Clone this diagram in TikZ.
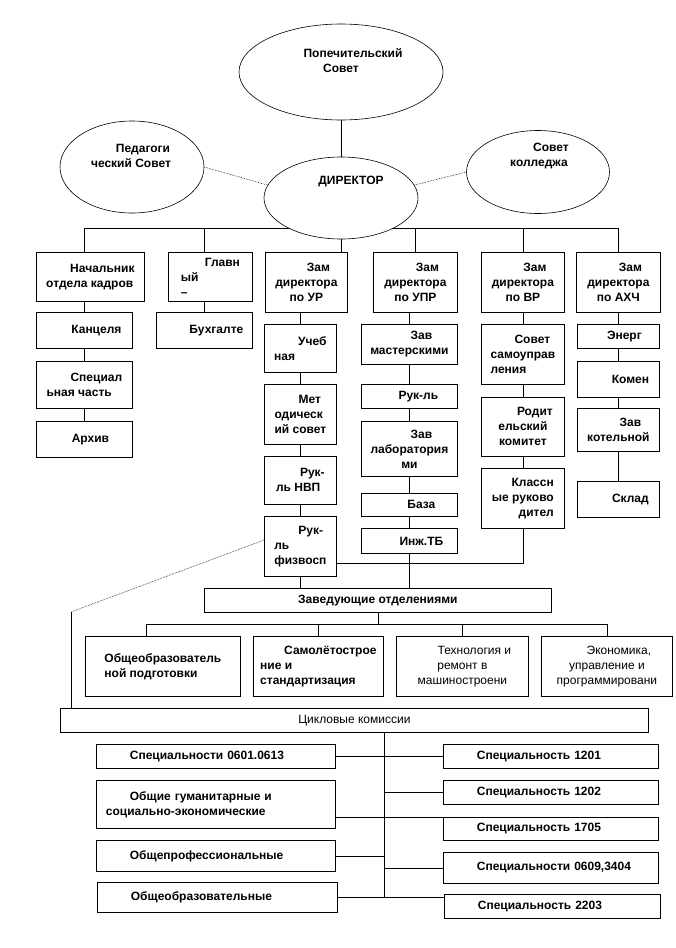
\documentclass[tikz,border=0pt]{standalone}
\usepackage{fontspec}
\setmainfont{Liberation Sans}
\usepackage{tikz}
\usetikzlibrary{shapes.geometric}

\newcommand{\fli}{\hspace*{2em}}

\begin{document}
\begin{tikzpicture}[x=1pt, y=-1pt, line width=0.8pt,
  every node/.style={font=\fontsize{12}{15}\selectfont\bfseries},
  box/.style={draw, rectangle, anchor=north west, inner sep=0pt},
  oval/.style={draw, ellipse, fill=white, inner sep=0pt, line width=0.6pt},
  plain/.style={font=\fontsize{12}{15}\selectfont},
  link/.style={densely dotted, line width=0.6pt}]
  \path[use as bounding box, fill=white] (0,0) rectangle (675,948);

  % First row under the director
  \node[box, minimum width=108, minimum height=49, align=left] (nach) at (36,252) {\fli Начальник\\отдела кадров};
  \node[box, minimum width=84, minimum height=49, align=left] (glav) at (168,252) {\fli Главн\\ый\\–};
  \node[box, minimum width=82, minimum height=60, align=center] (zur) at (265,252) {\fli Зам\\директора\\по УР};
  \node[box, minimum width=84, minimum height=60, align=center] (zupr) at (373,252) {\fli Зам\\директора\\по УПР};
  \node[box, minimum width=83, minimum height=60, align=center] (zvr) at (481,252) {\fli Зам\\директора\\по ВР};
  \node[box, minimum width=84, minimum height=60, align=center] (zahch) at (576,252) {\fli Зам\\директора\\по АХЧ};

  % Personnel and accounts
  \node[box, minimum width=96, minimum height=36] (kanc) at (36,312) {\fli Канцеля};
  \node[box, minimum width=96, minimum height=47, align=left] (spec) at (36,361) {\fli Специал\\ьная часть};
  \node[box, minimum width=96, minimum height=36] (arch) at (36,421) {\hspace*{1em}Архив};
  \node[box, minimum width=96, minimum height=36] (buh) at (156,312) {\fli Бухгалте};

  % UR column
  \node[box, minimum width=72, minimum height=48, align=left] (ucheb) at (264,324) {\fli Учеб\\ная};
  \node[box, minimum width=72, minimum height=60, align=left] (metod) at (264,384) {\fli Мет\\одическ\\ий совет};
  \node[box, minimum width=72, minimum height=48, align=left] (nvp) at (264,456) {\fli Рук-\\ль НВП};
  \node[box, minimum width=72, minimum height=60, align=left] (fiz) at (264,516) {\fli Рук-\\ль\\физвосп};

  % UPR column
  \node[box, minimum width=96, minimum height=40, align=center] (master) at (361,324) {\fli Зав\\мастерскими};
  \node[box, minimum width=96, minimum height=24] (rukl) at (361,384) {\hspace*{1.5em}Рук-ль};
  \node[box, minimum width=96, minimum height=55, align=center] (lab) at (361,421) {\fli Зав\\лаборатория\\ми};
  \node[box, minimum width=96, minimum height=23] (baza) at (361,493) {\fli База};
  \node[box, minimum width=96, minimum height=25] (inzh) at (361,528) {\fli Инж.ТБ};

  % VR column
  \node[box, minimum width=83, minimum height=60, align=left] (samoupr) at (481,324) {\fli Совет\\самоуправ\\ления};
  \node[box, minimum width=83, minimum height=59, align=center] (rodit) at (481,397) {\fli Родит\\ельский\\комитет};
  \node[box, minimum width=83, minimum height=60, align=right] (klass) at (481,468) {Классн\\ые руково\\дител};

  % AHCh column
  \node[box, minimum width=82, minimum height=24] (energ) at (577,324) {\hspace*{1em}Энерг};
  \node[box, minimum width=82, minimum height=36] (komen) at (577,361) {\fli Комен};
  \node[box, minimum width=82, minimum height=43, align=center] (kotel) at (577,408) {\fli Зав\\котельной};
  \node[box, minimum width=82, minimum height=36] (sklad) at (577,481) {\fli Склад};

  % Departments
  \node[box, minimum width=347, minimum height=24] (zav) at (204,588) {Заведующие отделениями};
  \node[box, minimum width=155, minimum height=60, align=left] (obsh) at (85,636) {Общеобразователь\\ной подготовки};
  \node[box, minimum width=130, minimum height=60, align=left] (samol) at (253,636) {\fli Самолётострое\\ние и\\стандартизация};
  \node[box, plain, minimum width=132, minimum height=60, align=center] (tehn) at (396,636) {\fli Технология и\\ремонт в\\машиностроени};
  \node[box, plain, minimum width=131, minimum height=60, align=center] (econ) at (541,636) {\fli Экономика,\\управление и\\программировани};

  % Cycle commissions
  \node[box, plain, minimum width=588, minimum height=24] (cikl) at (60,708) {Цикловые комиссии};
  \node[box, minimum width=239, minimum height=24, text width=220, align=left] (sp0601) at (96,744) {\fli Специальности 0601.0613};
  \node[box, minimum width=239, minimum height=48, text width=220, align=left] (gum) at (96,780) {\fli Общие гуманитарные и\\социально-экономические};
  \node[box, minimum width=239, minimum height=31, text width=220, align=left] (prof) at (96,840) {\fli Общепрофессиональные};
  \node[box, minimum width=240, minimum height=30, text width=221, align=left] (obr) at (97,882) {\fli Общеобразовательные};
  \node[box, minimum width=215, minimum height=24, text width=196, align=left] (s1201) at (443,744) {\fli Специальность 1201};
  \node[box, minimum width=215, minimum height=24, text width=196, align=left] (s1202) at (443,780) {\fli Специальность 1202};
  \node[box, minimum width=215, minimum height=23, text width=196, align=left] (s1705) at (443,817) {\fli Специальность 1705};
  \node[box, minimum width=215, minimum height=31, text width=196, align=left] (s0609) at (443,852) {\fli Специальности 0609,3404};
  \node[box, minimum width=216, minimum height=24, text width=197, align=left] (s2203) at (444,894) {\fli Специальность 2203};

  % Bus under the director
  \coordinate (bus) at (0,228);
  \draw (kanc.north |- bus) -- (zahch.north |- bus);
  \draw (kanc.north |- bus) -- (kanc.north |- nach.north);
  \draw (buh.north |- bus) -- (buh.north |- glav.north);
  \foreach \n in {zupr,zvr,zahch}
    \draw (\n.north |- bus) -- (\n.north);

  % Councils and director
  \node[oval, minimum width=204, minimum height=96] (pop) at (341,72) {};
  \node[oval, minimum width=144, minimum height=92] (ped) at (132,167) {};
  \node[oval, minimum width=143, minimum height=83] (sov) at (538,172) {};
  \node[oval, minimum width=154, minimum height=82] (dir) at (341,198) {};
  \node[align=center] (poptext) at (341,61) {\fli Попечительский\\Совет};
  \node[align=center] (pedtext) at (131,156) {\fli Педагоги\\ческий Совет};
  \node[align=center] (sovtext) at (539,156) {\fli Совет\\колледжа};
  \node (dirtext) at (351,182) {ДИРЕКТОР};

  \draw[line width=0.6pt] (pop.south) -- (dir.north);
  \draw[link] (ped.east) -- (dir.170);
  \draw[link] (sov.west) -- (dir.10);
  \draw (dir.south) -- (dir.south |- zur.north);

  % Columns
  \draw (kanc.north) -- (kanc.north |- nach.south);
  \draw (buh.north) -- (buh.north |- glav.south);
  \draw (ucheb.north) -- (ucheb.north |- zur.south);
  \draw (master.north) -- (master.north |- zupr.south);
  \draw (samoupr.north) -- (samoupr.north |- zvr.south);
  \draw (energ.north) -- (energ.north |- zahch.south);
  \foreach \a/\b in {kanc/spec, spec/arch, ucheb/metod, metod/nvp, nvp/fiz,
                     master/rukl, rukl/lab, lab/baza, baza/inzh,
                     samoupr/rodit, rodit/klass,
                     energ/komen, komen/kotel, kotel/sklad}
    \draw (\a) -- (\b);

  % Down to the departments
  \draw (inzh) -- (inzh |- zav.north);
  \draw (fiz) -- (fiz |- zav.north);
  \coordinate (vrlink) at (klass.south |- 0,563);
  \draw (klass.south) -- (vrlink) -- (vrlink -| fiz.east);
  \coordinate (bend) at (71,612);
  \draw[link] (fiz.west |- 0,540) -- (bend);
  \draw (bend) -- (bend |- cikl.north);

  \coordinate (deptbus) at (0,624);
  \draw (zav.south) -- (zav.south |- deptbus);
  \draw ([xshift=-17]obsh.north) |- (econ.north |- deptbus) -- (econ.north);
  \draw (samol.north) -- (samol.north |- deptbus);
  \draw (tehn.north) -- (tehn.north |- deptbus);

  % Commissions
  \coordinate (spine) at (384,732);
  \draw (spine) -- (spine |- obr.east);
  \draw (sp0601.east) -- (spine |- sp0601.east);
  \draw (spine |- s1201.west) -- (s1201.west);
  \draw (spine |- s1202.west) -- (s1202.west);
  \draw (gum.east |- s1705.north) -- (s1705.north west);
  \draw (prof.east) -- (spine |- prof.east);
  \draw (spine |- s0609.west) -- (s0609.west);
  \draw (obr.east) -- (s2203.west |- obr.east);
\end{tikzpicture}
\end{document}
